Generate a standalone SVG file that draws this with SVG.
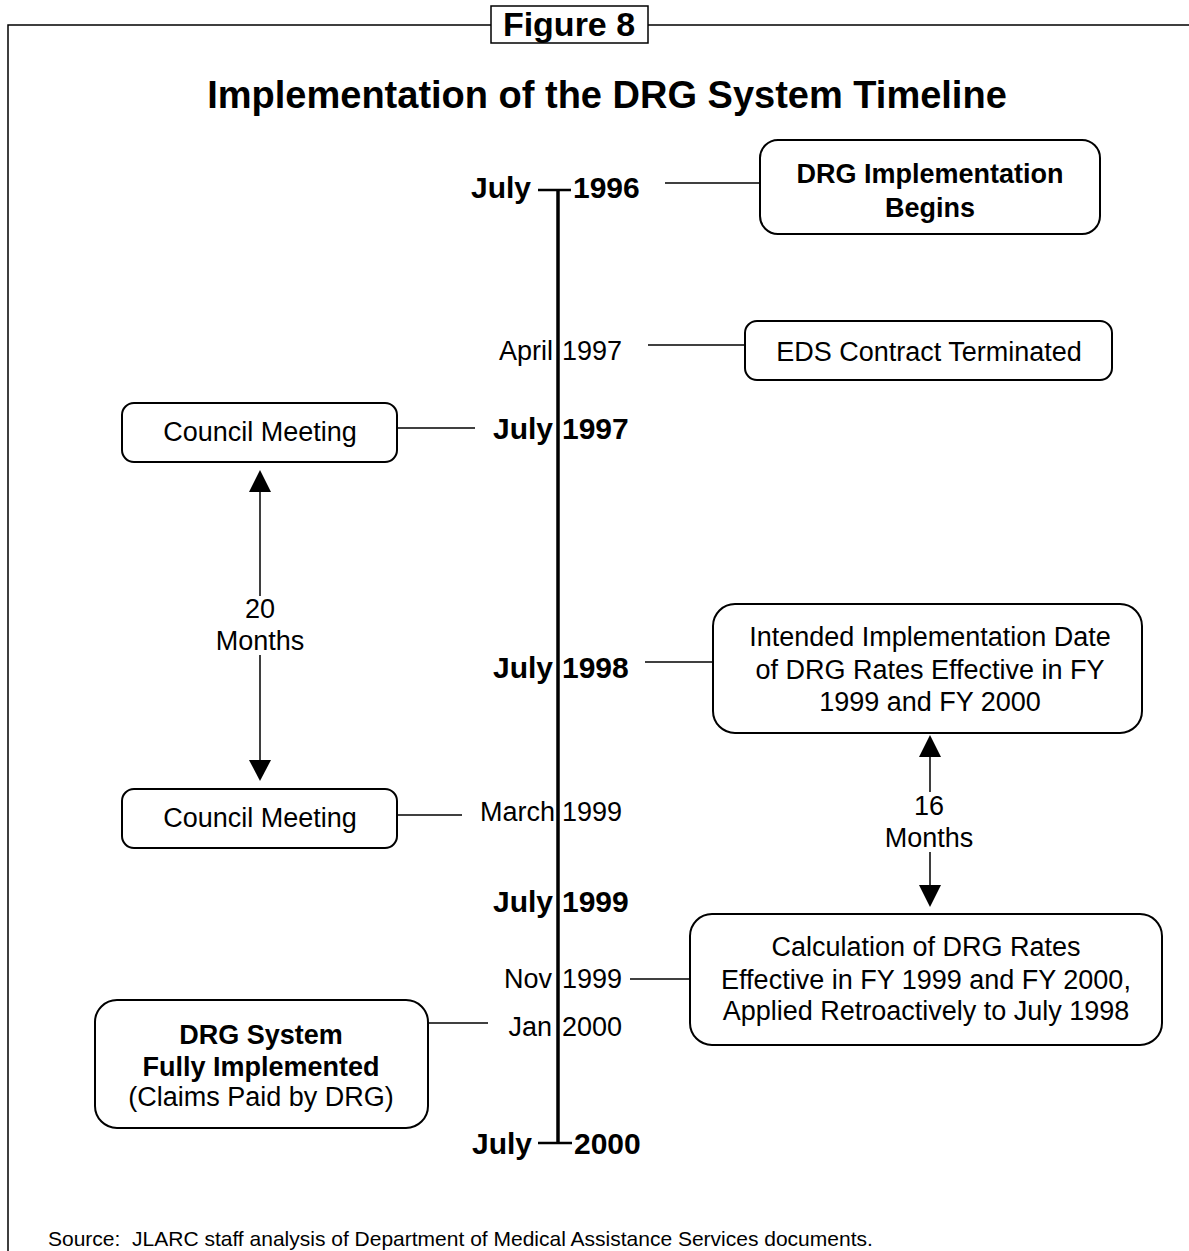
<svg xmlns="http://www.w3.org/2000/svg" width="1189" height="1251" viewBox="0 0 1189 1251">
<defs>
<style>
text{font-family:"Liberation Sans",Arial,Helvetica,sans-serif;fill:#000}
.r{font-size:27px}
.b{font-size:27px;font-weight:bold}
.d{font-size:30px;font-weight:bold}
.dr{font-size:27px}
.c{text-anchor:middle}
.e{text-anchor:end}
.box{fill:#fff;stroke:#000;stroke-width:2}
.lead{stroke:#000;stroke-width:1.5;fill:none}
.arr{stroke:#000;stroke-width:1.5;fill:none}
.head{fill:#000}
</style>
</defs>
<rect width="1189" height="1251" fill="#fff"/>
<g id="frame" fill="none" stroke="#000" stroke-width="1.5">
<path d="M8 1251 V25 H491 M648 25 H1189"/>
<rect x="491" y="6" width="157" height="37"/>
</g>
<text x="569" y="36" class="c" style="font-size:34px;font-weight:bold">Figure 8</text>
<text x="607" y="108" class="c" style="font-size:38px;font-weight:bold">Implementation of the DRG System Timeline</text>

<g id="timeline">
<path d="M558 190 V1143" stroke="#000" stroke-width="3.5" fill="none"/>
<path d="M538 190 H571 M538 1143 H572" stroke="#000" stroke-width="2.5" fill="none"/>
<text x="531" y="198" class="d e">July</text><text x="573" y="198" class="d">1996</text>
<text x="553" y="360" class="dr e">April</text><text x="562" y="360" class="dr">1997</text>
<text x="553" y="439" class="d e">July</text><text x="562" y="439" class="d">1997</text>
<text x="553" y="678" class="d e">July</text><text x="562" y="678" class="d">1998</text>
<text x="555" y="821" class="dr e">March</text><text x="562" y="821" class="dr">1999</text>
<text x="553" y="912" class="d e">July</text><text x="562" y="912" class="d">1999</text>
<text x="552" y="988" class="dr e">Nov</text><text x="562" y="988" class="dr">1999</text>
<text x="552" y="1036" class="dr e">Jan</text><text x="562" y="1036" class="dr">2000</text>
<text x="532" y="1154" class="d e">July</text><text x="574" y="1154" class="d">2000</text>
</g>

<g id="connectors">
<path class="lead" d="M665 183 H760"/>
<path class="lead" d="M648 345 H745"/>
<path class="lead" d="M397 428 H475"/>
<path class="lead" d="M645 662 H713"/>
<path class="lead" d="M397 815 H462"/>
<path class="lead" d="M630 979 H690"/>
<path class="lead" d="M428 1023 H488"/>
<path class="arr" d="M260 490 V596 M260 655 V762"/>
<polygon class="head" points="260,470 249,492 271,492"/>
<polygon class="head" points="249,760 271,760 260,781"/>
<path class="arr" d="M930 755 V792 M930 852 V887"/>
<polygon class="head" points="930,735 919,757 941,757"/>
<polygon class="head" points="919,885 941,885 930,907"/>
<text x="260" y="618" class="r c">20</text>
<text x="260" y="650" class="r c">Months</text>
<text x="929" y="815" class="r c">16</text>
<text x="929" y="847" class="r c">Months</text>
</g>

<g id="n-begins">
<rect class="box" x="760" y="140" width="340" height="94" rx="18"/>
<text x="930" y="183" class="b c">DRG Implementation</text>
<text x="930" y="217" class="b c">Begins</text>
</g>
<g id="n-eds">
<rect class="box" x="745" y="321" width="367" height="59" rx="12"/>
<text x="929" y="361" class="r c">EDS Contract Terminated</text>
</g>
<g id="n-council1">
<rect class="box" x="122" y="403" width="275" height="59" rx="12"/>
<text x="260" y="441" class="r c">Council Meeting</text>
</g>
<g id="n-intended">
<rect class="box" x="713" y="604" width="429" height="129" rx="22"/>
<text x="930" y="646" class="r c">Intended Implementation Date</text>
<text x="930" y="679" class="r c">of DRG Rates Effective in FY</text>
<text x="930" y="711" class="r c">1999 and FY 2000</text>
</g>
<g id="n-council2">
<rect class="box" x="122" y="789" width="275" height="59" rx="12"/>
<text x="260" y="827" class="r c">Council Meeting</text>
</g>
<g id="n-calc">
<rect class="box" x="690" y="914" width="472" height="131" rx="22"/>
<text x="926" y="956" class="r c">Calculation of DRG Rates</text>
<text x="926" y="989" class="r c">Effective in FY 1999 and FY 2000,</text>
<text x="926" y="1020" class="r c">Applied Retroactively to July 1998</text>
</g>
<g id="n-full">
<rect class="box" x="95" y="1000" width="333" height="128" rx="22"/>
<text x="261" y="1044" class="b c">DRG System</text>
<text x="261" y="1076" class="b c">Fully Implemented</text>
<text x="261" y="1106" class="r c">(Claims Paid by DRG)</text>
</g>
<text x="48" y="1246" style="font-size:21px;white-space:pre" xml:space="preserve">Source:  JLARC staff analysis of Department of Medical Assistance Services documents.</text>
</svg>
